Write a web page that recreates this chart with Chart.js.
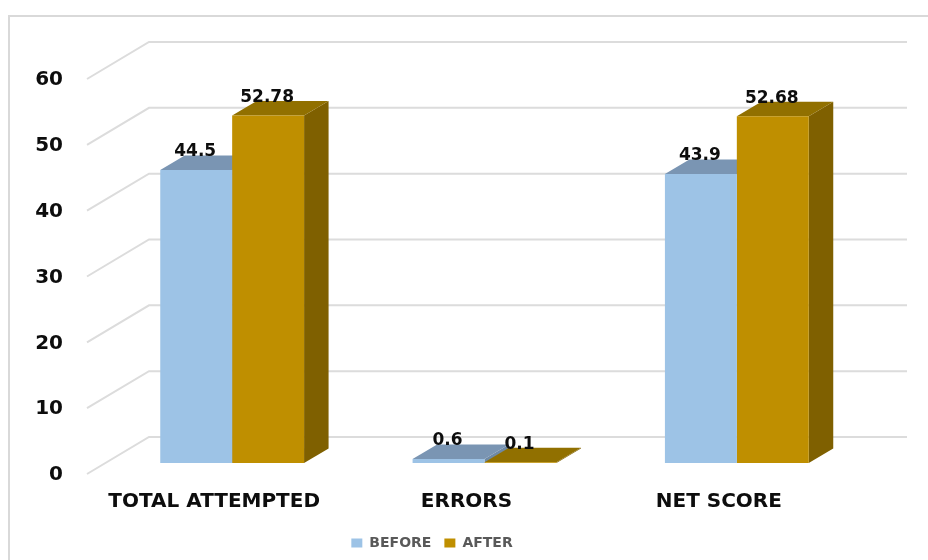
<!DOCTYPE html>
<html>
<head>
<meta charset="utf-8">
<script src="https://cdn.jsdelivr.net/npm/chart.js@4/dist/chart.umd.min.js"></script>
<style>
  html, body { margin: 0; padding: 0; background: #fff; }
  #wrap { position: relative; width: 928px; height: 560px; overflow: hidden; }
  #frame { position: absolute; left: 8px; top: 15px; width: 930px; height: 560px; border: 2px solid #d9d9d9; box-sizing: border-box; }
  #chart { position: absolute; left: 0; top: 0; }
</style>
</head>
<body>
<div id="wrap">
  <div id="frame"></div>
  <canvas id="chart" width="928" height="560"></canvas>
</div>
<script>
const categories = ['TOTAL ATTEMPTED', 'ERRORS', 'NET SCORE'];
const before = [44.5, 0.6, 43.9];
const after = [52.78, 0.1, 52.68];
const yTicks = [0, 10, 20, 30, 40, 50, 60];

// depth of the fake 3D box on each bar, and of the floor behind/in front of it
const BAR_DX = 24.5, BAR_DY = 14.5;
const WALL_DY = 26, FRONT_DY = 11;
const WALL_LEFT = 149, FRONT_LEFT = 87, WALL_RIGHT = 907;

const faces = [
  { front: '#9dc3e6', top: '#7a95b3', side: '#6f8aa6' },
  { front: '#bf8f00', top: '#917000', side: '#7f6000' }
];

function poly(ctx, pts, color) {
  ctx.fillStyle = color;
  ctx.beginPath();
  pts.forEach((p, i) => i ? ctx.lineTo(p[0], p[1]) : ctx.moveTo(p[0], p[1]));
  ctx.closePath();
  ctx.fill();
}

const wallGrid = {
  id: 'wallGrid',
  beforeDatasetsDraw(chart) {
    const { ctx, scales: { y } } = chart;
    ctx.save();
    ctx.strokeStyle = '#dcdcdc';
    ctx.lineWidth = 2;
    yTicks.forEach(v => {
      const py = y.getPixelForValue(v);
      ctx.beginPath();
      ctx.moveTo(FRONT_LEFT, py + FRONT_DY);
      ctx.lineTo(WALL_LEFT, py - WALL_DY);
      ctx.lineTo(WALL_RIGHT, py - WALL_DY);
      ctx.stroke();
    });
    ctx.restore();
  }
};

const boxFaces = {
  id: 'boxFaces',
  beforeDatasetsDraw(chart) {
    const { ctx } = chart;
    chart.data.datasets.forEach((ds, i) => {
      chart.getDatasetMeta(i).data.forEach(bar => {
        const { x, y, base, width } = bar.getProps(['x', 'y', 'base', 'width'], true);
        const l = x - width / 2, r = x + width / 2;
        poly(ctx, [[r, y], [r + BAR_DX, y - BAR_DY], [r + BAR_DX, base - BAR_DY], [r, base]], faces[i].side);
        poly(ctx, [[l, y], [l + BAR_DX, y - BAR_DY], [r + BAR_DX, y - BAR_DY], [r, y]], faces[i].top);
      });
    });
  }
};

const valueLabels = {
  id: 'valueLabels',
  afterDatasetsDraw(chart) {
    const { ctx } = chart;
    ctx.save();
    ctx.font = 'bold 17px "DejaVu Sans"';
    ctx.fillStyle = '#0d0d0d';
    ctx.textAlign = 'center';
    ctx.textBaseline = 'middle';
    chart.data.datasets.forEach((ds, i) => {
      chart.getDatasetMeta(i).data.forEach((bar, j) => {
        ctx.fillText(String(ds.data[j]), bar.x - 1, bar.y - 18);
      });
    });
    ctx.restore();
  }
};

new Chart(document.getElementById('chart'), {
  type: 'bar',
  data: {
    labels: categories,
    datasets: [
      { label: 'BEFORE', data: before, backgroundColor: faces[0].front },
      { label: 'AFTER', data: after, backgroundColor: faces[1].front }
    ]
  },
  options: {
    responsive: false,
    animation: false,
    categoryPercentage: 0.57,
    barPercentage: 1,
    layout: { padding: { left: 1, right: 65, top: 68, bottom: 0 } },
    plugins: {
      tooltip: { enabled: false },
      legend: {
        position: 'bottom',
        labels: {
          boxWidth: 11, boxHeight: 9, padding: 13,
          color: '#595959',
          font: { family: '"DejaVu Sans"', size: 14, weight: 'bold' }
        }
      }
    },
    scales: {
      x: {
        grid: { display: false },
        border: { display: false },
        afterFit(scale) { scale.height = 60; },
        ticks: {
          color: '#0d0d0d',
          labelOffset: -18,
          maxRotation: 0,
          padding: 19,
          font: { family: '"DejaVu Sans"', size: 20, weight: 'bold' }
        }
      },
      y: {
        min: 0,
        max: 60,
        grid: { display: false },
        border: { display: false },
        afterFit(scale) { scale.width = 105; },
        ticks: {
          stepSize: 10,
          color: '#0d0d0d',
          padding: 35,
          labelOffset: 12,
          font: { family: '"DejaVu Sans"', size: 20, weight: 'bold' }
        }
      }
    }
  },
  plugins: [wallGrid, boxFaces, valueLabels]
});
</script>
</body>
</html>
